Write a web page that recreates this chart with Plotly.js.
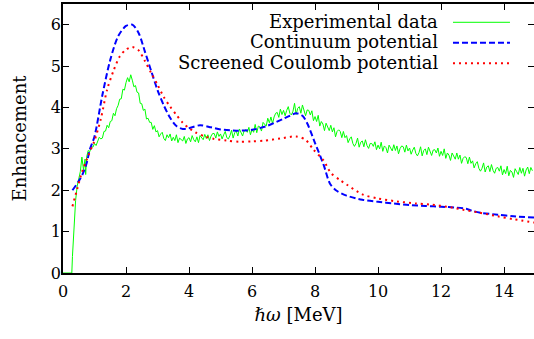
<!DOCTYPE html>
<html>
<head>
<meta charset="utf-8">
<script src="https://cdn.plot.ly/plotly-3.0.1.min.js"></script>
<style>html,body{margin:0;padding:0;background:#fff;font-family:'DejaVu Serif';}#chart{width:534px;height:339px;}</style>
</head>
<body>
<div id="chart"></div>
<script>
// Experimental data (green, noisy)
const expX = [0, 0.28, 0.3, 0.35, 0.4, 0.45, 0.5, 0.55, 0.6, 0.65, 0.7, 0.72, 0.75,
  0.8, 0.85, 0.9, 0.95, 1.0, 1.05, 1.1, 1.15, 1.2, 1.25,
  1.3, 1.35, 1.4, 1.45, 1.5, 1.55, 1.6, 1.65, 1.7, 1.75,
  1.8, 1.85, 1.9, 1.95, 2.0, 2.05, 2.1, 2.15, 2.2, 2.25,
  2.3, 2.35, 2.4, 2.45, 2.5, 2.55, 2.6, 2.65, 2.7, 2.75,
  2.8, 2.85, 2.9, 2.95, 3.0, 3.05, 3.1, 3.15, 3.2, 3.25,
  3.3, 3.35, 3.4, 3.45, 3.5, 3.55, 3.6, 3.65, 3.7, 3.75,
  3.8, 3.85, 3.9, 3.95, 4.0, 4.05, 4.1, 4.15, 4.2, 4.25,
  4.3, 4.35, 4.4, 4.45, 4.5, 4.55, 4.6, 4.65, 4.7, 4.75,
  4.8, 4.85, 4.9, 4.95, 5.0, 5.05, 5.1, 5.15, 5.2, 5.25,
  5.3, 5.35, 5.4, 5.45, 5.5, 5.55, 5.6, 5.65, 5.7, 5.75,
  5.8, 5.85, 5.9, 5.95, 6.0, 6.05, 6.1, 6.15, 6.2, 6.25,
  6.3, 6.35, 6.4, 6.45, 6.5, 6.55, 6.6, 6.65, 6.7, 6.75,
  6.8, 6.85, 6.9, 6.95, 7.0, 7.05, 7.1, 7.15, 7.2, 7.25,
  7.3, 7.35, 7.4, 7.45, 7.5, 7.55, 7.6, 7.65, 7.7, 7.75,
  7.8, 7.85, 7.9, 7.95, 8.0, 8.05, 8.1, 8.15, 8.2, 8.25,
  8.3, 8.35, 8.4, 8.45, 8.5, 8.55, 8.6, 8.65, 8.7, 8.75,
  8.8, 8.85, 8.9, 8.95, 9.0, 9.05, 9.1, 9.15, 9.2, 9.25,
  9.3, 9.35, 9.4, 9.45, 9.5, 9.55, 9.6, 9.65, 9.7, 9.75,
  9.8, 9.85, 9.9, 9.95, 10.0, 10.05, 10.1, 10.15, 10.2, 10.25,
  10.3, 10.35, 10.4, 10.45, 10.5, 10.55, 10.6, 10.65, 10.7, 10.75,
  10.8, 10.85, 10.9, 10.95, 11.0, 11.05, 11.1, 11.15, 11.2, 11.25,
  11.3, 11.35, 11.4, 11.45, 11.5, 11.55, 11.6, 11.65, 11.7, 11.75,
  11.8, 11.85, 11.9, 11.95, 12.0, 12.05, 12.1, 12.15, 12.2, 12.25,
  12.3, 12.35, 12.4, 12.45, 12.5, 12.55, 12.6, 12.65, 12.7, 12.75,
  12.8, 12.85, 12.9, 12.95, 13.0, 13.05, 13.1, 13.15, 13.2, 13.25,
  13.3, 13.35, 13.4, 13.45, 13.5, 13.55, 13.6, 13.65, 13.7, 13.75,
  13.8, 13.85, 13.9, 13.95, 14.0, 14.05, 14.1, 14.15, 14.2, 14.25,
  14.3, 14.35, 14.4, 14.45, 14.5, 14.55, 14.6, 14.65, 14.7, 14.75,
  14.8, 14.85, 14.9];
const expY = [0, 0, 0.4, 1.1, 1.75, 2.1, 2.3, 2.45, 2.8, 2.5, 2.75, 2.38, 2.8,
  2.96, 2.93, 3.06, 3.04, 3.13, 3.08, 3.19, 3.28, 3.24, 3.26,
  3.42, 3.43, 3.57, 3.51, 3.66, 3.68, 3.86, 3.80, 3.97, 4.05,
  4.2, 4.21, 4.44, 4.42, 4.6, 4.72, 4.62, 4.79, 4.66, 4.5,
  4.53, 4.37, 4.35, 4.10, 4.09, 3.93, 3.96, 3.72, 3.74, 3.64,
  3.64, 3.47, 3.56, 3.41, 3.44, 3.29, 3.36, 3.40, 3.25, 3.2,
  3.34, 3.27, 3.36, 3.19, 3.28, 3.20, 3.34, 3.15, 3.26, 3.22,
  3.19, 3.30, 3.13, 3.24, 3.27, 3.17, 3.32, 3.22, 3.17, 3.29,
  3.15, 3.32, 3.27, 3.22, 3.35, 3.25, 3.34, 3.20, 3.31, 3.37,
  3.37, 3.26, 3.41, 3.30, 3.36, 3.24, 3.34, 3.42, 3.27, 3.24,
  3.32, 3.45, 3.26, 3.39, 3.43, 3.31, 3.48, 3.37, 3.31, 3.44,
  3.46, 3.40, 3.52, 3.34, 3.47, 3.40, 3.59, 3.39, 3.55, 3.53,
  3.43, 3.64, 3.60, 3.55, 3.74, 3.63, 3.77, 3.61, 3.77, 3.86,
  3.88, 3.76, 3.96, 3.83, 3.93, 3.80, 3.93, 4.02, 3.86, 3.82,
  3.91, 4.1, 3.83, 3.98, 4.02, 3.86, 4.06, 3.89, 3.80, 3.94,
  3.93, 3.82, 3.92, 3.68, 3.78, 3.66, 3.81, 3.55, 3.66, 3.6,
  3.44, 3.62, 3.53, 3.44, 3.57, 3.41, 3.51, 3.29, 3.42, 3.46,
  3.42, 3.27, 3.42, 3.27, 3.32, 3.15, 3.24, 3.29, 3.13, 3.06,
  3.13, 3.26, 3.04, 3.16, 3.19, 3.05, 3.22, 3.08, 3.01, 3.13,
  3.13, 3.06, 3.17, 2.98, 3.09, 3.00, 3.16, 2.94, 3.07, 3.03,
  2.90, 3.09, 3.02, 2.95, 3.10, 2.96, 3.07, 2.88, 3.01, 3.07,
  3.05, 2.92, 3.09, 2.95, 3.02, 2.87, 2.97, 3.04, 2.89, 2.83,
  2.91, 3.05, 2.83, 2.96, 3.00, 2.86, 3.04, 2.91, 2.84, 2.97,
  2.98, 2.90, 3.02, 2.82, 2.94, 2.84, 3.00, 2.77, 2.90, 2.85,
  2.72, 2.90, 2.83, 2.75, 2.90, 2.75, 2.85, 2.65, 2.77, 2.81,
  2.79, 2.64, 2.80, 2.65, 2.71, 2.54, 2.64, 2.69, 2.53, 2.46,
  2.53, 2.66, 2.44, 2.56, 2.59, 2.45, 2.62, 2.48, 2.41, 2.53,
  2.55, 2.46, 2.59, 2.37, 2.50, 2.40, 2.58, 2.35, 2.48, 2.44,
  2.31, 2.52, 2.45, 2.38, 2.55, 2.41, 2.53, 2.34, 2.49, 2.56,
  2.40, 2.55, 2.47];

// Continuum potential (blue dashed)
const contX = [0.3, 0.5, 0.63, 0.75, 0.85, 1.0, 1.25, 1.5, 1.75, 2.0, 2.2, 2.4, 2.6, 2.8, 3.0, 3.2, 3.4,
  3.6, 3.8, 4.0, 4.35, 4.7, 5.0, 5.5, 6.0, 6.5, 7.0, 7.2, 7.4, 7.6, 7.75, 8.0, 8.27, 8.48, 8.7, 9.0,
  9.5, 10.0, 10.5, 11.0, 11.5, 12.0, 12.5, 12.8, 13.0, 13.3, 13.8, 14.3, 14.95];
const contY = [2.0, 2.22, 2.4, 2.65, 2.98, 3.3, 4.3, 5.15, 5.72, 5.97, 6.0, 5.8, 5.35, 4.88, 4.42, 4.05, 3.75,
  3.55, 3.48, 3.5, 3.57, 3.52, 3.47, 3.44, 3.46, 3.56, 3.73, 3.8, 3.86, 3.8, 3.62, 3.14, 2.62, 2.15, 1.98, 1.87,
  1.77, 1.72, 1.68, 1.64, 1.62, 1.6, 1.58, 1.55, 1.5, 1.45, 1.41, 1.37, 1.34];

// Screened Coulomb potential (red dotted)
const scrX = [0.3, 0.45, 0.6, 0.8, 1.0, 1.2, 1.4, 1.6, 1.8, 2.0, 2.2, 2.4, 2.6, 2.8, 3.0, 3.2, 3.4, 3.6,
  3.8, 4.0, 4.2, 4.5, 4.8, 5.2, 5.6, 6.0, 6.4, 6.9, 7.4, 7.7, 7.95, 8.27, 8.5, 8.8, 9.0, 9.5, 10.0,
  10.6, 11.2, 11.7, 12.2, 12.7, 13.2, 13.8, 14.3, 14.95];
const scrY = [1.61, 2.03, 2.43, 2.83, 3.2, 3.72, 4.43, 4.88, 5.23, 5.4, 5.46, 5.38, 5.12, 4.83, 4.55, 4.25, 4.02, 3.82,
  3.63, 3.5, 3.4, 3.3, 3.24, 3.2, 3.17, 3.18, 3.2, 3.25, 3.3, 3.22, 2.98, 2.72, 2.42, 2.24, 2.14, 1.9, 1.8,
  1.73, 1.68, 1.65, 1.6, 1.53, 1.46, 1.37, 1.3, 1.22];

const legendLabels = ["Experimental data", "Continuum potential", "Screened Coulomb potential"];
const xTickVals = [0, 2, 4, 6, 8, 10, 12, 14];
const yTickVals = [0, 1, 2, 3, 4, 5, 6];

const FONT = "DejaVu Serif";
const colors = ["#00ff00", "#0000ff", "#ff0000"];
const dashes = ["solid", "6px,3px", "2px,4px"];
const widths = [1, 2, 2];

const traces = [
  {x: expX, y: expY, mode: "lines", line: {color: colors[0], width: widths[0]}, name: legendLabels[0]},
  {x: contX, y: contY, mode: "lines", line: {color: colors[1], width: widths[1], dash: dashes[1], shape: "spline", smoothing: 0.8}, name: legendLabels[1]},
  {x: scrX, y: scrY, mode: "lines", line: {color: colors[2], width: widths[2], dash: dashes[2], shape: "spline", smoothing: 0.8}, name: legendLabels[2]}
];

const rowY = [0.936, 0.86, 0.784];
const annotations = legendLabels.map((t, i) => ({
  text: t, xref: "paper", yref: "paper", x: 0.800, y: rowY[i], xanchor: "right", yanchor: "middle",
  showarrow: false, font: {family: FONT, size: 18, color: "#000"}
}));
const shapes = legendLabels.map((t, i) => ({
  type: "line", xref: "paper", yref: "paper", x0: 0.828, x1: 0.949, y0: rowY[i] - 0.004, y1: rowY[i] - 0.004,
  line: {color: colors[i], width: widths[i], dash: dashes[i]}
}));

const axisCommon = {
  showline: true, linecolor: "#000", linewidth: 1.5, mirror: "ticks",
  ticks: "inside", ticklen: 6, tickwidth: 1, tickcolor: "#000",
  showgrid: false, zeroline: false,
  tickfont: {family: FONT, size: 16, color: "#000"}
};

const layout = {
  width: 534, height: 339,
  margin: {l: 63, r: 0, t: 4, b: 66},
  paper_bgcolor: "#fff", plot_bgcolor: "#fff",
  font: {family: FONT, size: 16, color: "#000"},
  showlegend: false,
  xaxis: Object.assign({}, axisCommon, {
    range: [0, 14.95], tickvals: xTickVals, ticktext: xTickVals.map(String), ticklabelstandoff: 3,
    title: {text: "<i>ℏω</i> [MeV]", font: {family: FONT, size: 18, color: "#000"}, standoff: 8}
  }),
  yaxis: Object.assign({}, axisCommon, {
    range: [0, 6.5], tickvals: yTickVals, ticktext: yTickVals.map(String), ticklabelstandoff: -3,
    title: {text: "Enhancement", font: {family: FONT, size: 18, color: "#000"}, standoff: 20}
  }),
  annotations: annotations,
  shapes: shapes
};

Plotly.newPlot("chart", traces, layout, {displayModeBar: false});
</script>
</body>
</html>
